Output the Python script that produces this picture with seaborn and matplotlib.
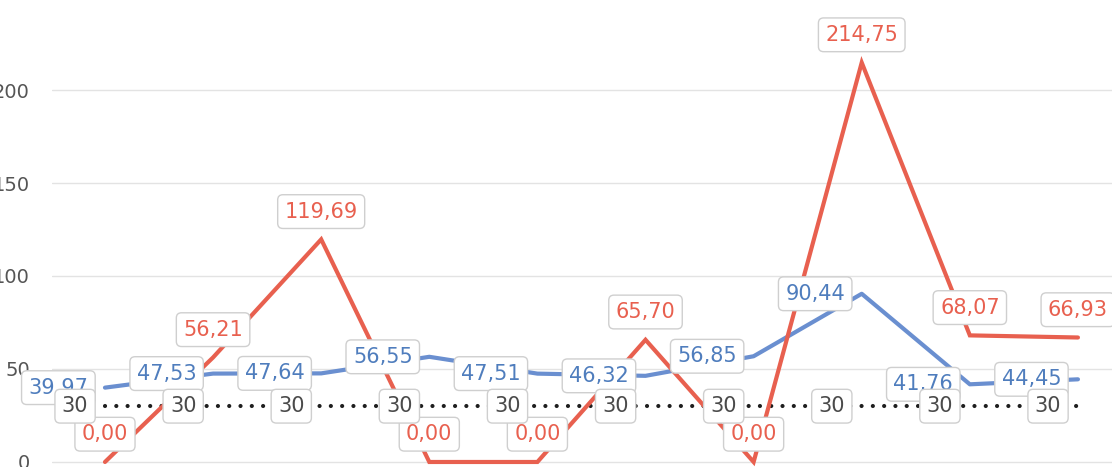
import matplotlib
matplotlib.use("Agg")
import matplotlib.pyplot as plt
import seaborn as sns
import pandas as pd

# ---- data ----
anos = list(range(2014, 2024))
municipio = [0.00, 56.21, 119.69, 0.00, 0.00, 65.70, 0.00, 214.75, 68.07, 66.93]
estado = [39.97, 47.53, 47.64, 56.55, 47.51, 46.32, 56.85, 90.44, 41.76, 44.45]
meta = [30] * 10
y_ticks = [0, 50, 100, 150, 200]

RED = "#e8604f"
BLUE = "#6a8fd0"
BLUE_TXT = "#4f7dbd"
BLACK = "#1e1e1e"

sns.set_style("white")
plt.rcParams["font.family"] = ["DejaVu Sans"]

fig = plt.figure(figsize=(11.12, 4.67), dpi=100)
ax = fig.add_axes([52 / 1112, 0, 1060 / 1112, 1])

df = pd.DataFrame({"ano": anos, "municipio": municipio, "estado": estado, "meta": meta})

sns.lineplot(data=df, x="ano", y="municipio", ax=ax, color=RED, linewidth=3.0,
             solid_joinstyle="miter", zorder=3)
sns.lineplot(data=df, x="ano", y="estado", ax=ax, color=BLUE, linewidth=3.0, zorder=2)
sns.lineplot(data=df, x="ano", y="meta", ax=ax, color=BLACK, linewidth=3.0,
             linestyle=(0, (0.01, 2.7)), dash_capstyle="round", zorder=2)


def fmt(v):
    return f"{v:.2f}".replace(".", ",")


box = dict(boxstyle="round,pad=0.33,rounding_size=0.25", fc="white", ec="#cfcfcf", lw=1.0)
FS = 15

for x, v in zip(anos, municipio):
    ax.annotate(fmt(v), (x, v), xytext=(0, 20), textcoords="offset points",
                ha="center", va="center", fontsize=FS, color=RED, bbox=box, zorder=5)
for x, v in zip(anos, estado):
    ax.annotate(fmt(v), (x, v), xytext=(-12, 0), textcoords="offset points",
                ha="right", va="center", fontsize=FS, color=BLUE_TXT, bbox=box, zorder=6)
for x, v in zip(anos, meta):
    ax.annotate(str(v), (x, v), xytext=(-12, 0), textcoords="offset points",
                ha="right", va="center", fontsize=FS, color="#4a4a4a", bbox=box, zorder=7)

ax.set_xlim(anos[0] - 0.49, anos[0] + 9.315)
ax.set_ylim(-2.7, 248.4)
ax.set_yticks(y_ticks)
ax.set_yticklabels([str(t) for t in y_ticks], fontsize=14, color="#555555")
ax.tick_params(axis="y", length=0, pad=16)
ax.set_xticks([])
ax.set_xlabel("")
ax.set_ylabel("")
ax.yaxis.grid(True, color="#e3e3e3", linewidth=1.0)
ax.set_axisbelow(True)
for s in ax.spines.values():
    s.set_visible(False)

fig.savefig("out.png", dpi=100)
